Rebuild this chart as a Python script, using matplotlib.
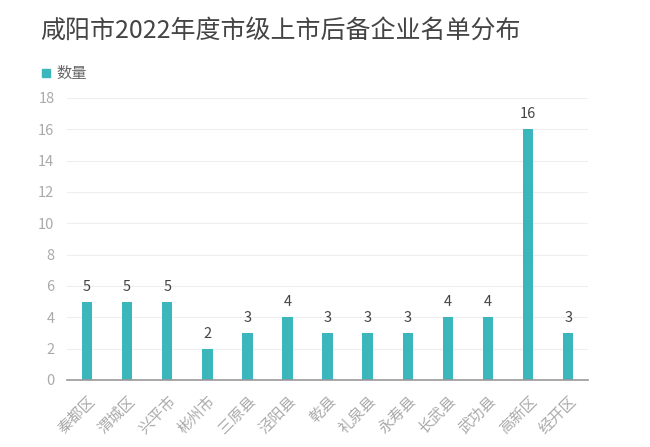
import matplotlib.pyplot as plt
from matplotlib.patches import Rectangle

plt.rcParams['font.family'] = ['Noto Sans CJK SC', 'DejaVu Sans']

# dados do grafico
regioes = ['秦都区', '渭城区', '兴平市', '彬州市', '三原县', '泾阳县', '乾县',
           '礼泉县', '永寿县', '长武县', '武功县', '高新区', '经开区']
quantidade = [5, 5, 5, 2, 3, 4, 3, 3, 3, 4, 4, 16, 3]
y_ticks = [0, 2, 4, 6, 8, 10, 12, 14, 16, 18]

cor = '#3bb6bd'

fig = plt.figure(figsize=(6.5, 4.47), dpi=100)
ax = fig.add_axes([0.103, 0.150, 0.802, 0.631])

x = range(len(regioes))
bars = ax.bar(x, quantidade, width=0.26, color=cor, zorder=3)
for xi, v in zip(x, quantidade):
    ax.text(xi, v + 0.5, str(v), ha='center', va='bottom', fontsize=10.5, color='#444444')

ax.set_xlim(-0.5, len(regioes) - 0.5)
ax.set_ylim(0, 18)
ax.set_yticks(y_ticks)
ax.set_xticks(list(x))
ax.set_xticklabels(regioes, rotation=45, ha='right', rotation_mode='anchor', fontsize=11, color='#aaaaaa')
ax.tick_params(axis='y', labelsize=10.5, labelcolor='#aaaaaa', length=0, pad=9)
ax.tick_params(axis='x', length=0, pad=9)
ax.grid(axis='y', color='#eeeeee', linewidth=0.8, zorder=0)
for s in ['top', 'right', 'left']:
    ax.spines[s].set_visible(False)
ax.spines['bottom'].set_color('#999999')
ax.spines['bottom'].set_linewidth(1.2)
ax.spines['bottom'].set_zorder(4)

# titulo e legenda
fig.text(40 / 650, 1 - 31 / 447, '咸阳市2022年度市级上市后备企业名单分布', fontsize=18,
         color='#444444', va='center', ha='left')
fig.patches.append(Rectangle((42 / 650, 1 - 77 / 447), 8 / 650, 8 / 447,
                             transform=fig.transFigure, color=cor, figure=fig))
fig.text(56 / 650, 1 - 73 / 447, '数量', fontsize=11, color='#666666', va='center', ha='left')

fig.savefig('out.png', dpi=100)
